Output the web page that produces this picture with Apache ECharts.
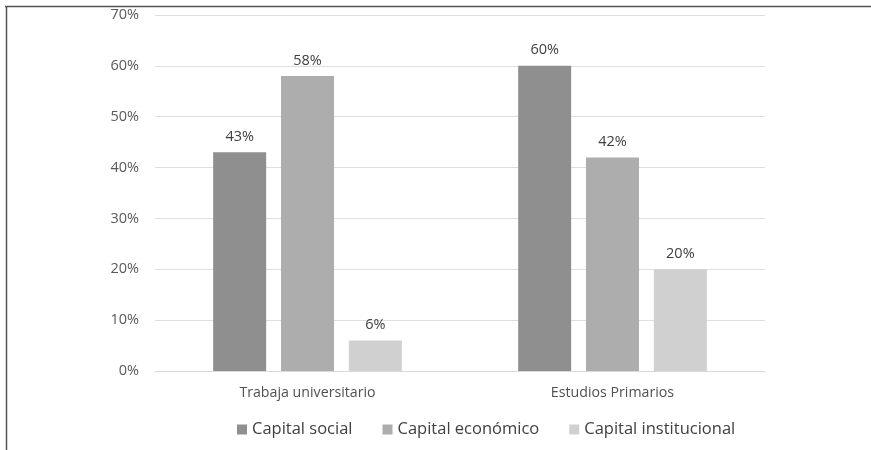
<!DOCTYPE html>
<html><head><meta charset="utf-8">
<script src="https://cdn.jsdelivr.net/npm/echarts@6/dist/echarts.min.js"></script>
<style>html,body{margin:0;padding:0;background:#fff}#c{width:871px;height:450px}</style>
</head><body><div id="c"></div>
<script>
const categories = ['Trabaja universitario', 'Estudios Primarios'];
const seriesNames = ['Capital social', 'Capital económico', 'Capital institucional'];
const capitalSocial = [43, 60];
const capitalEconomico = [58, 42];
const capitalInstitucional = [6, 20];
const yTicks = [0, 10, 20, 30, 40, 50, 60, 70];

const colors = ['#8f8f8f', '#adadad', '#d0d0d0'];
const font = 'Open Sans';
const chart = echarts.init(document.getElementById('c'));
const values = [capitalSocial, capitalEconomico, capitalInstitucional];
chart.setOption({
  animation: false,
  textStyle: {fontFamily: font},
  grid: {left: 155, right: 106, top: 15, bottom: 79, containLabel: false},
  graphic: [
    {type: 'line', shape: {x1: 5, y1: 6.5, x2: 871, y2: 6.5}, style: {stroke: '#555', lineWidth: 1.5}},
    {type: 'line', shape: {x1: 6.5, y1: 6, x2: 6.5, y2: 450}, style: {stroke: '#555', lineWidth: 1.5}}
  ],
  legend: {
    data: seriesNames, bottom: 7, left: 232, icon: 'rect', itemWidth: 10, itemHeight: 10,
    itemGap: 30, textStyle: {fontSize: 16.5, color: '#404040', fontFamily: font}
  },
  xAxis: {
    type: 'category', data: categories,
    axisLine: {lineStyle: {color: '#d9d9d9'}}, axisTick: {show: false},
    axisLabel: {fontSize: 14.2, color: '#505050', margin: 15}
  },
  yAxis: {
    type: 'value', min: yTicks[0], max: yTicks[yTicks.length - 1], interval: 10,
    axisLine: {show: false}, axisTick: {show: false},
    splitLine: {lineStyle: {color: '#dedede'}},
    axisLabel: {formatter: v => v + '%', fontSize: 14.5, color: '#595959', margin: 16}
  },
  series: seriesNames.map((n, i) => ({
    name: n, type: 'bar', data: values[i], barWidth: 53, barGap: '28%',
    itemStyle: {color: colors[i]},
    label: {show: true, position: 'top', distance: 8, formatter: p => p.value + '%', fontSize: 14.5, color: '#404040'}
  }))
});
</script></body></html>
